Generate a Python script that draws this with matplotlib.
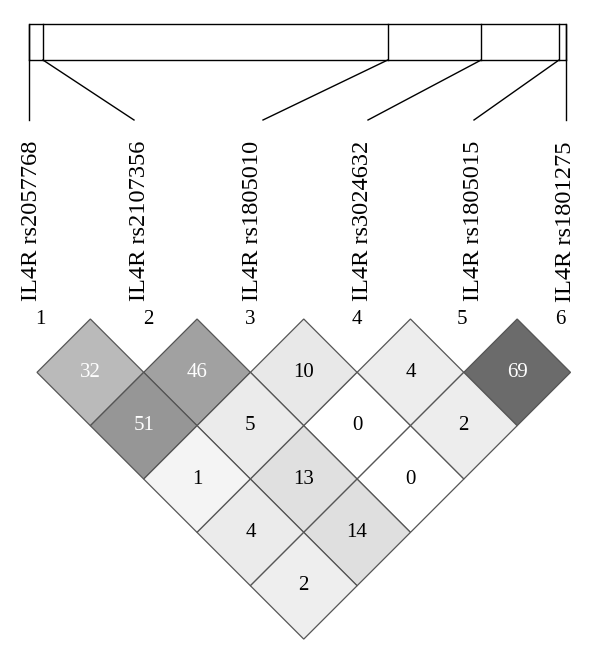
# IL4R - mapa de LD (estilo Haploview) com os 6 SNPs

import matplotlib.pyplot as plt
from matplotlib.patches import Polygon, Rectangle

snp_names = [
    "IL4R rs2057768",
    "IL4R rs2107356",
    "IL4R rs1805010",
    "IL4R rs3024632",
    "IL4R rs1805015",
    "IL4R rs1801275",
]
# posicao relativa de cada SNP na regiao (0 = inicio, 1 = fim)
map_pos = [0.0, 0.026, 0.668, 0.842, 0.987, 1.0]

# r2 x 100 para cada par (i, j), i < j
pair_i = [1, 2, 3, 4, 5, 1, 2, 3, 4, 1, 2, 3, 1, 2, 1]
pair_j = [2, 3, 4, 5, 6, 3, 4, 5, 6, 4, 5, 6, 5, 6, 6]
r2_values = [32, 46, 10, 4, 69, 51, 5, 0, 2, 1, 13, 0, 4, 14, 2]
cell_grey = [
    0.73, 0.63, 0.91, 0.93, 0.42,
    0.59, 0.92, 1.0, 0.93,
    0.955, 0.88, 1.0,
    0.92, 0.875,
    0.935,
]

SERIF = ["Liberation Serif", "DejaVu Serif"]
PX = 106.7  # pixels por unidade


fig = plt.figure(figsize=(6.0, 6.58), dpi=100)
ax = fig.add_axes([0, 0, 1, 1])
ax.set_xlim(1 - 37 / PX, 1 + 563 / PX)
ax.set_ylim(-339 / PX, 319 / PX)
ax.axis("off")

# matriz de LD
for i, j, val, g in zip(pair_i, pair_j, r2_values, cell_grey):
    cx = (i + j) / 2
    cy = -(j - i) / 2
    verts = [(cx, cy + 0.5), (cx + 0.5, cy), (cx, cy - 0.5), (cx - 0.5, cy)]
    ax.add_patch(Polygon(verts, closed=True, facecolor=(g, g, g),
                         edgecolor="#555555", linewidth=0.9))
    txt_color = "white" if val >= 30 else "black"
    ax.text(cx, cy, str(val), ha="center", va="center", fontsize=15,
            color=txt_color, family=SERIF)

# numeros dos marcadores
label_off = [0.03, 0.04, 0.0, 0.0, -0.02, -0.1]
for k in range(1, len(snp_names) + 1):
    ax.text(k + label_off[k - 1], 0.0, str(k), ha="center", va="center",
            fontsize=15, family=SERIF)

# mapa fisico no topo
x_left = 1 + (29 - 37) / PX
x_right = 1 + (566 - 37) / PX
y_top = (319 - 24) / PX
y_bot = (319 - 60) / PX
y_link = (319 - 120) / PX
ax.add_patch(Rectangle((x_left, y_bot), x_right - x_left, y_top - y_bot,
                       fill=False, edgecolor="black", linewidth=1.0))

link_px = [29, 134, 263, 368, 474, 566]
text_px = [32, 140, 252.5, 363, 473.5, 566]
for pos, lpx, tpx, name in zip(map_pos, link_px, text_px, snp_names):
    xm = x_left + pos * (x_right - x_left)
    ax.plot([xm, xm], [y_bot, y_top], color="black", linewidth=1.0)
    xl = 1 + (lpx - 37) / PX
    ax.plot([xm, xl], [y_bot, y_link], color="black", linewidth=1.0)
    xt = 1 + (tpx - 37) / PX
    ax.text(xt, (319 - 141) / PX, name, rotation=90, ha="center", va="top",
            fontsize=17.6, family=SERIF)

fig.savefig("out.png", dpi=100)
